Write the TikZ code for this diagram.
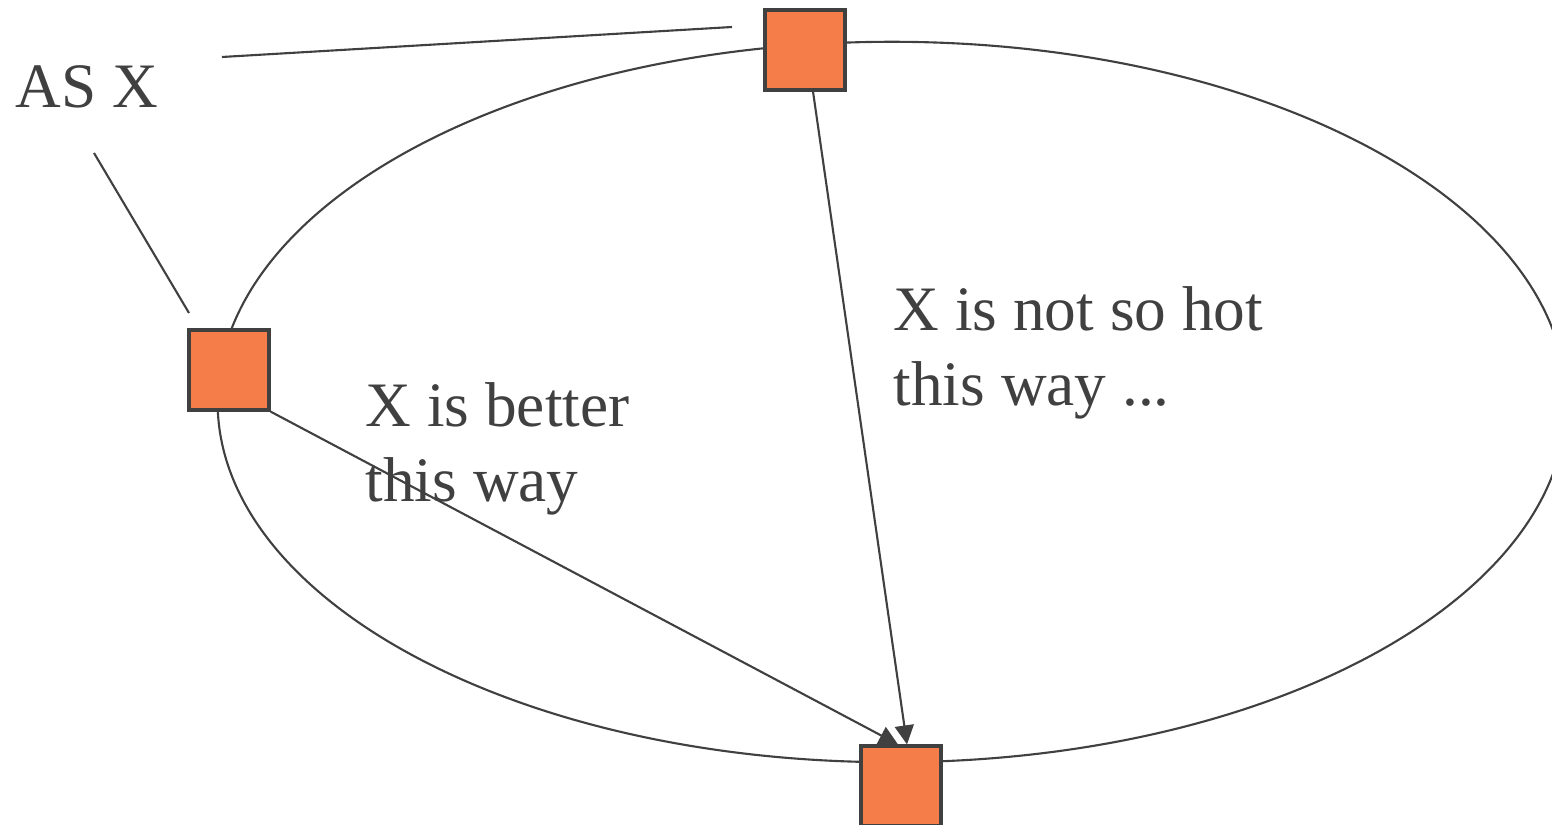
\documentclass[tikz,border=0pt]{standalone}
\usepackage{fontspec}
\setmainfont{Liberation Serif}
\usetikzlibrary{arrows.meta}
\definecolor{routerfill}{RGB}{244,125,74}
\definecolor{ink}{RGB}{64,64,64}

\begin{document}
\begin{tikzpicture}[x=0.01cm, y=-0.01cm,
  router/.style={draw=ink, line width=0.9pt, fill=routerfill, minimum size=0.8cm, inner sep=0pt},
  link/.style={draw=ink, line width=0.6pt},
  arr/.style={link, -{Triangle[length=1.9mm, width=1.9mm]}},
  lbl/.style={text=ink, font=\rmfamily\fontsize{18}{21.6}\selectfont, align=left, inner sep=0pt},
  ]
  \useasboundingbox (0,0) rectangle (1552,825);
  \clip (0,0) rectangle (1552,825);

  % the AS ring
  \draw[link] (892,402) ellipse [x radius=6.74cm, y radius=3.6cm];

  \node[router] (top)    at (805,50)  {};
  \node[router] (left)   at (229,370) {};
  \node[router] (bottom) at (901,786) {};

  \node[lbl, anchor=base west] (as) at (15,108) {AS X};
  \coordinate (asa) at (222,57);
  \coordinate (asb) at (94,153);
  \coordinate (topa) at (732,27);
  \coordinate (lefta) at (189,313);
  \draw[link] (asa) -- (topa);
  \draw[link] (asb) -- (lefta);

  \draw[arr] (left.south east) -- ([xshift=-0.03cm]bottom.north);
  \draw[arr] ([xshift=0.08cm]top.south) -- ([xshift=0.06cm]bottom.north);

  % base of a two-line node is its last line
  \node[lbl, anchor=base west] (better) at (365,502) {X is better\\this way};
  \node[lbl, anchor=base west] (nothot) at (893,406) {X is not so hot\\this way ...};
\end{tikzpicture}
\end{document}
